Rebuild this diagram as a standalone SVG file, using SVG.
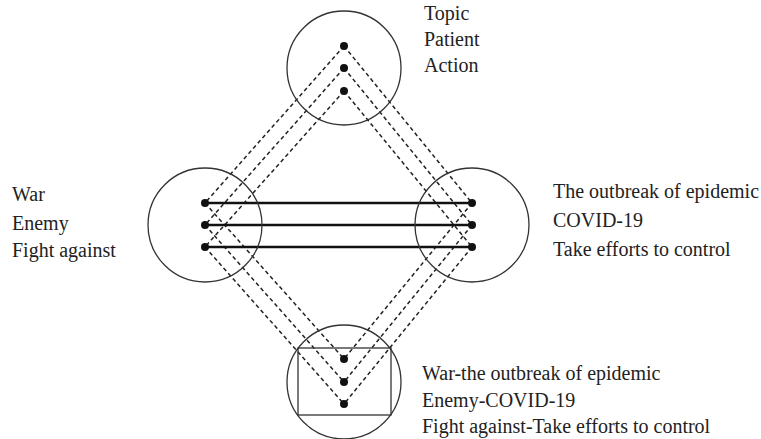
<svg xmlns="http://www.w3.org/2000/svg" width="761" height="439" viewBox="0 0 761 439">
  <style>
    .ring { fill: none; stroke: #333; stroke-width: 1.3; }
    .dot { fill: #111; }
    .dash { stroke: #222; stroke-width: 1.5; stroke-dasharray: 4 3; fill: none; }
    .solid { stroke: #111; stroke-width: 2.3; }
    .box { fill: none; stroke: #333; stroke-width: 1.3; }
    text { font-family: "Liberation Serif", "Times New Roman", serif; font-size: 20px; fill: #222; }
  </style>
  <rect width="761" height="439" fill="#fff"/>

  <!-- mapping lines between the four spaces -->
  <g id="connectors">
    <!-- generic space to input space 1 -->
    <line class="dash" x1="344" y1="46" x2="205" y2="203"/>
    <line class="dash" x1="344" y1="68" x2="205" y2="225"/>
    <line class="dash" x1="344" y1="91" x2="205" y2="247"/>
    <!-- generic space to input space 2 -->
    <line class="dash" x1="344" y1="46" x2="472" y2="203"/>
    <line class="dash" x1="344" y1="68" x2="472" y2="225"/>
    <line class="dash" x1="344" y1="91" x2="472" y2="247"/>
    <!-- input space 1 to blend -->
    <line class="dash" x1="205" y1="203" x2="344" y2="359"/>
    <line class="dash" x1="205" y1="225" x2="344" y2="382"/>
    <line class="dash" x1="205" y1="247" x2="344" y2="404"/>
    <!-- input space 2 to blend -->
    <line class="dash" x1="472" y1="203" x2="344" y2="359"/>
    <line class="dash" x1="472" y1="225" x2="344" y2="382"/>
    <line class="dash" x1="472" y1="247" x2="344" y2="404"/>
    <!-- cross-space mapping -->
    <line class="solid" x1="205" y1="203" x2="472" y2="203"/>
    <line class="solid" x1="205" y1="225" x2="472" y2="225"/>
    <line class="solid" x1="205" y1="247" x2="472" y2="247"/>
  </g>

  <g id="generic">
    <circle class="ring" cx="344" cy="68" r="57"/>
    <circle class="dot" cx="344" cy="46" r="4"/>
    <circle class="dot" cx="344" cy="68" r="4"/>
    <circle class="dot" cx="344" cy="91" r="4"/>
    <text x="424" y="20">Topic</text>
    <text x="424" y="46">Patient</text>
    <text x="424" y="72">Action</text>
  </g>

  <g id="input1">
    <circle class="ring" cx="205" cy="225" r="57"/>
    <circle class="dot" cx="205" cy="203" r="4"/>
    <circle class="dot" cx="205" cy="225" r="4"/>
    <circle class="dot" cx="205" cy="247" r="4"/>
    <text x="12" y="201">War</text>
    <text x="12" y="230">Enemy</text>
    <text x="12" y="257">Fight against</text>
  </g>

  <g id="input2">
    <circle class="ring" cx="472" cy="225" r="57"/>
    <circle class="dot" cx="472" cy="203" r="4"/>
    <circle class="dot" cx="472" cy="225" r="4"/>
    <circle class="dot" cx="472" cy="247" r="4"/>
    <text x="553" y="198">The outbreak of epidemic</text>
    <text x="553" y="227">COVID-19</text>
    <text x="553" y="256">Take efforts to control</text>
  </g>

  <g id="blend">
    <circle class="ring" cx="344" cy="382" r="57"/>
    <rect class="box" x="298" y="348" width="93" height="67"/>
    <circle class="dot" cx="344" cy="359" r="4"/>
    <circle class="dot" cx="344" cy="382" r="4"/>
    <circle class="dot" cx="344" cy="404" r="4"/>
    <text x="422" y="380">War-the outbreak of epidemic</text>
    <text x="422" y="407">Enemy-COVID-19</text>
    <text x="422" y="433">Fight against-Take efforts to control</text>
  </g>
</svg>
